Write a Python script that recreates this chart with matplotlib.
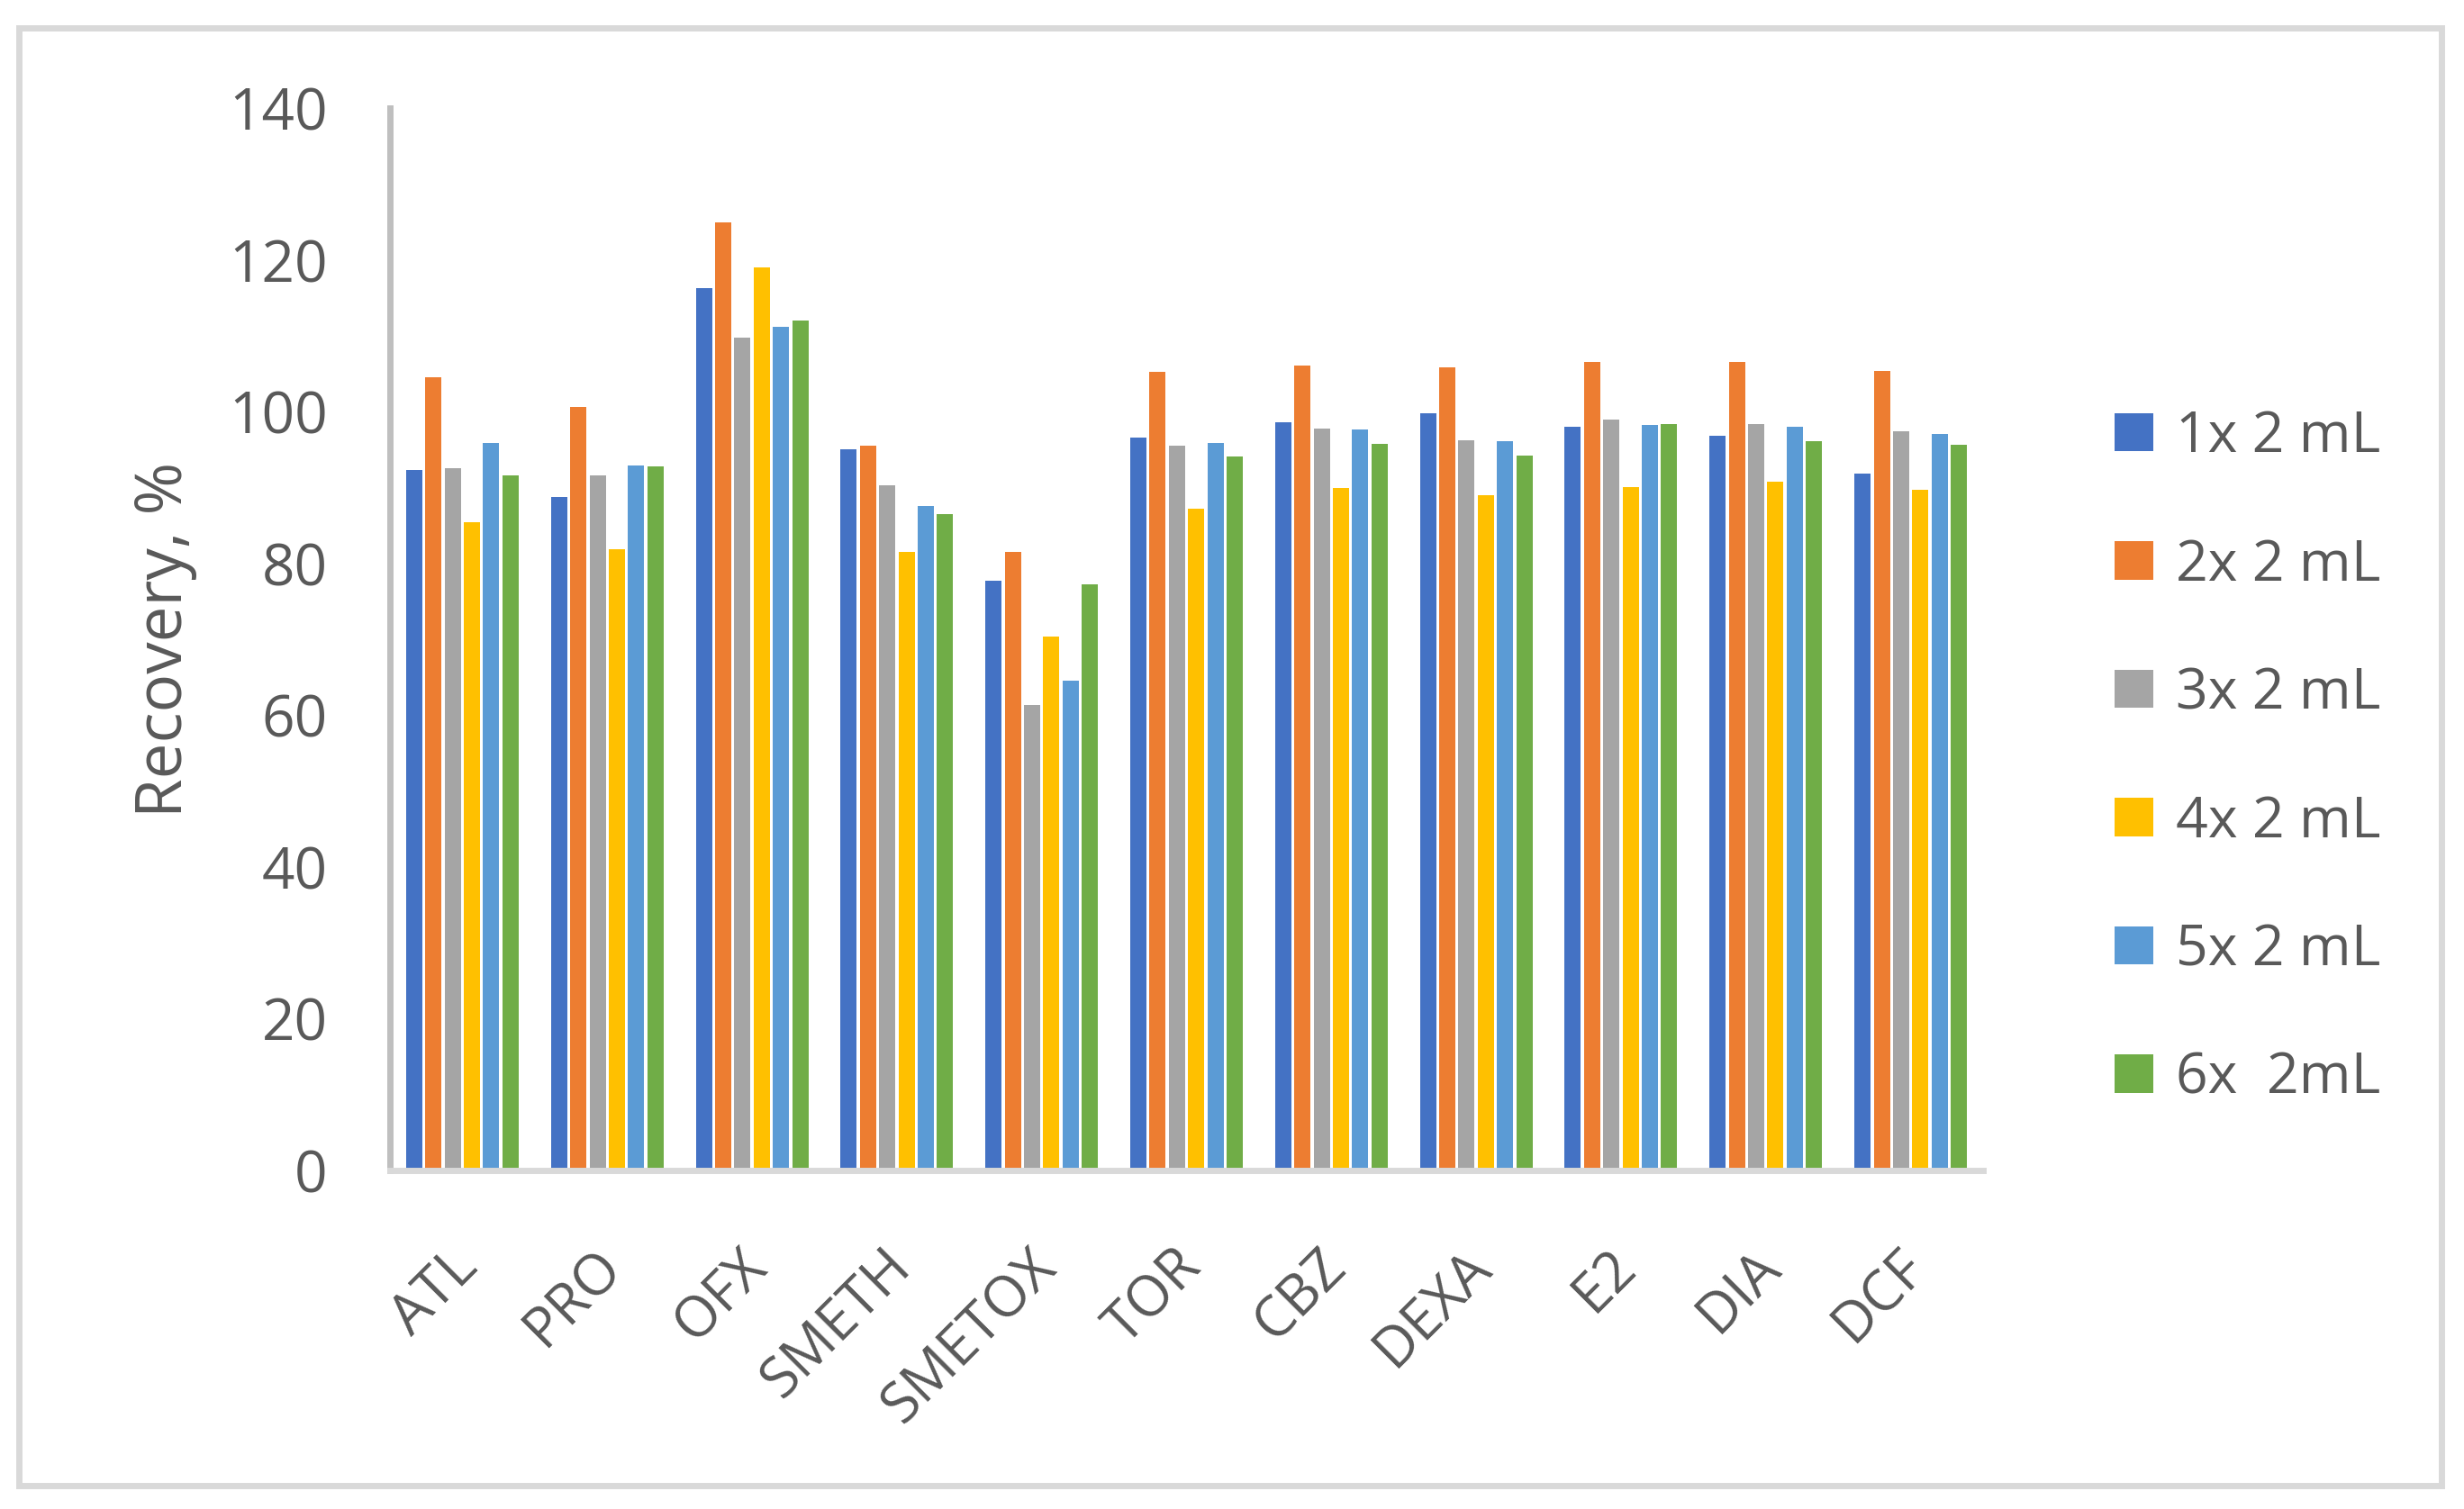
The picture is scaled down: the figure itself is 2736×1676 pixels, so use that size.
import matplotlib
matplotlib.use('Agg')

import matplotlib.pyplot as plt
from matplotlib.patches import Rectangle
from matplotlib.transforms import ScaledTranslation
import numpy as np

plt.rcParams['font.family'] = ['Open Sans', 'DejaVu Sans']

compounds = ["ATL", "PRO", "OFX", "SMETH", "SMETOX", "TOR", "CBZ", "DEXA", "E2", "DIA", "DCF"]
series_names = ["1x 2 mL", "2x 2 mL", "3x 2 mL", "4x 2 mL", "5x 2 mL", "6x  2mL"]

rec_1x = [92.3, 88.8, 116.3, 95.0, 77.7, 96.6, 98.6, 99.8, 98.0, 96.8, 91.8]
rec_2x = [104.5, 100.6, 124.9, 95.5, 81.5, 105.2, 106.1, 105.8, 106.6, 106.6, 105.4]
rec_3x = [92.5, 91.6, 109.8, 90.3, 61.3, 95.5, 97.8, 96.2, 99.0, 98.4, 97.4]
rec_4x = [85.4, 81.9, 119.0, 81.5, 70.3, 87.2, 89.9, 89.0, 90.0, 90.8, 89.7]
rec_5x = [95.9, 92.9, 111.2, 87.5, 64.5, 95.9, 97.7, 96.1, 98.2, 98.0, 97.0]
rec_6x = [91.6, 92.8, 112.0, 86.5, 77.2, 94.1, 95.8, 94.2, 98.4, 96.1, 95.6]

colors = ["#4472C4", "#ED7D31", "#A5A5A5", "#FFC000", "#5B9BD5", "#70AD47"]
text_col = "#595959"

W, H = 2736, 1676
fig = plt.figure(figsize=(W / 100, H / 100), dpi=100)
ax = fig.add_axes([433 / W, 1 - 1300 / H, (2202 - 433) / W, (1300 - 120) / H])

x = np.arange(len(compounds))
slot = 0.133
bar_w = 0.112
all_series = [rec_1x, rec_2x, rec_3x, rec_4x, rec_5x, rec_6x]
for i, (vals, name, c) in enumerate(zip(all_series, series_names, colors)):
    ax.bar(x + (i - 2.5) * slot, vals, width=bar_w, color=c, label=name, zorder=2)

ax.set_xlim(-0.5, len(compounds) - 0.5)
ax.set_ylim(0, 140)
ax.set_yticks(np.arange(0, 141, 20))

for s in ["top", "right"]:
    ax.spines[s].set_visible(False)
ax.spines["left"].set_color("#BFBFBF")
ax.spines["left"].set_linewidth(5)
ax.spines["bottom"].set_color("#D9D9D9")
ax.spines["bottom"].set_linewidth(5)

ax.tick_params(axis="y", length=0, pad=50, labelsize=46, labelcolor=text_col)
ax.tick_params(axis="x", length=0, pad=0, labelsize=45, labelcolor=text_col)

ax.set_xticks(x)
ax.set_xticklabels(compounds, rotation=45, ha="right", va="center", rotation_mode="anchor")
# shift rotated labels so they hang below the category like Excel does
offset = ScaledTranslation(0.07, -0.98, fig.dpi_scale_trans)
for lbl in ax.get_xticklabels():
    lbl.set_transform(lbl.get_transform() + offset)

fig.text(183 / W, 1 - 710 / H, "Recovery, %", rotation=90, ha="center", va="center",
         fontsize=51, color=text_col)

leg = ax.legend(loc="center left", bbox_to_anchor=(2348 / W, 1 - 842 / H),
                bbox_transform=fig.transFigure, frameon=False, fontsize=45,
                handlelength=0.69, handleheight=0.67, handletextpad=0.4,
                labelspacing=1.28, borderpad=0, borderaxespad=0)
for t in leg.get_texts():
    t.set_color(text_col)

fig.patches.append(Rectangle((21 / W, 1 - 1650 / H), (2711 - 21) / W, (1650 - 31) / H,
                             transform=fig.transFigure, fill=False,
                             edgecolor="#D9D9D9", linewidth=5))

fig.savefig("out.png", dpi=100, facecolor="white")
